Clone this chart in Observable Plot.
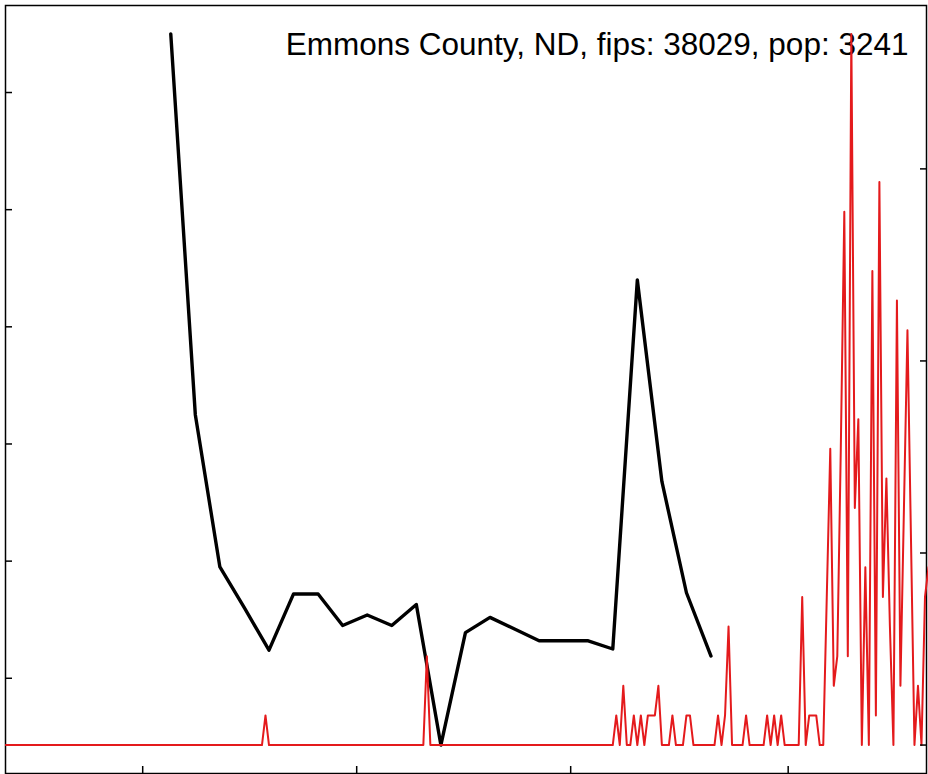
<!DOCTYPE html>
<html>
<head>
<meta charset="utf-8">
<script src="https://cdn.jsdelivr.net/npm/d3@7"></script>
<script src="https://cdn.jsdelivr.net/npm/@observablehq/plot@0.6"></script>
<style>
  html, body { margin: 0; padding: 0; background: #fff; }
  #chart { position: relative; width: 928px; height: 774px; overflow: hidden; }
  #chart svg { position: absolute; left: 0; top: 0; }
</style>
</head>
<body>
<div id="chart"></div>
<script>
// ---- data ----
const title = "Emmons County, ND, fips: 38029, pop: 3241";
const population = 3241;

// weekly series (black line), arbitrary left-axis units
const weekDates = ["2020-03-09","2020-03-16","2020-03-23","2020-03-30","2020-04-06","2020-04-13",
  "2020-04-20","2020-04-27","2020-05-04","2020-05-11","2020-05-18","2020-05-25","2020-06-01",
  "2020-06-08","2020-06-15","2020-06-22","2020-06-29","2020-07-06","2020-07-13","2020-07-20",
  "2020-07-27","2020-08-03","2020-08-10"];
const weekValues = [6.50, 3.25, 1.95, 1.60, 1.24, 1.72, 1.72, 1.45, 1.54, 1.45, 1.63, 0.43,
  1.39, 1.52, 1.42, 1.32, 1.32, 1.32, 1.25, 4.40, 2.68, 1.73, 1.19];

// daily new cases (red line), starting 2020-01-22
const dailyStart = "2020-01-22";
const casesJan = [0,0,0,0,0,0,0,0,0,0];
const casesFeb = [0,0,0,0,0,0,0,0,0,0,0,0,0,0,0,0,0,0,0,0,0,0,0,0,0,0,0,0,0];
const casesMar = [0,0,0,0,0,0,0,0,0,0,0,0,0,0,0,0,0,0,0,0,0,0,0,0,0,0,0,0,0,0,0];
const casesApr = [0,0,0,0,1,0,0,0,0,0,0,0,0,0,0,0,0,0,0,0,0,0,0,0,0,0,0,0,0,0];
const casesMay = [0,0,0,0,0,0,0,0,0,0,0,0,0,0,0,0,0,0,0,0,3,0,0,0,0,0,0,0,0,0,0];
const casesJun = [0,0,0,0,0,0,0,0,0,0,0,0,0,0,0,0,0,0,0,0,0,0,0,0,0,0,0,0,0,0];
const casesJul = [0,0,0,0,0,0,0,0,0,0,0,0,0,1,0,2,0,0,1,0,1,0,1,1,1,2,0,0,0,1,0];
const casesAug = [0,0,1,1,0,0,0,0,0,0,0,1,0,1,4,0,0,0,0,1,0,0,0,0,0,1,0,1,0,1,0];
const casesSep = [0,0,0,0,5,0,1,1,1,0,0,5,10,2,3,10,18,3,24,8,11,0,6,0,16,1,19,5,9,4];
const casesOct = [0,15,2,8,14,7,0,2,0,5,6];

// axis ticks
const xTicks = ["2020-03-01","2020-05-01","2020-07-01","2020-09-01"];
const leftTicks = [1, 2, 3, 4, 5, 6];
const rightTicks = [0, 200, 400, 600];   // cases per 100k

// ---- build tables ----
const weekly = weekDates.map((d, i) => ({date: new Date(d), value: weekValues[i]}));
const dailyCases = [].concat(casesJan, casesFeb, casesMar, casesApr, casesMay, casesJun,
  casesJul, casesAug, casesSep, casesOct);
const daily = dailyCases.map((c, i) => ({
  date: d3.utcDay.offset(new Date(dailyStart), i),
  rate: c * 1e5 / population
}));

const DAY = 864e5;
const xDomain = [new Date(Date.parse("2020-01-22") - 0.11 * DAY), new Date(Date.parse("2020-10-10") + 0.43 * DAY)];
function padded(vals) { // R-style 4% expansion
  const [a, b] = d3.extent(vals); const p = (b - a) * 0.04; return [a - p, b + p];
}

const common = {
  width: 928, height: 774,
  marginTop: 5, marginLeft: 5, marginRight: 2, marginBottom: 1,
  x: {type: "utc", domain: xDomain},
};

const blank = () => "";

const back = Plot.plot({
  ...common,
  style: {background: "white", overflow: "visible"},
  y: {domain: padded(weekValues)},
  marks: [
    Plot.text([title], {frameAnchor: "top-right", textAnchor: "end", lineAnchor: "top",
      dx: -18, dy: 27, fontSize: 31.5, fill: "black",
      fontFamily: "'Liberation Sans', Arial, Helvetica, sans-serif"}),
    Plot.line(weekly, {x: "date", y: "value", stroke: "black", strokeWidth: 3.4,
      strokeLinejoin: "round", strokeLinecap: "round"}),
    Plot.axisY(leftTicks, {anchor: "left", tickSize: -7, tickFormat: blank, label: null, strokeWidth: 1.5}),
    Plot.axisX(xTicks.map(d => new Date(d)), {anchor: "bottom", tickSize: -7, tickFormat: blank, label: null, strokeWidth: 1.5}),
    Plot.frame({stroke: "black", strokeWidth: 1.5})
  ]
});

const front = Plot.plot({
  ...common,
  style: {background: "transparent", overflow: "visible"},
  y: {domain: padded(daily.map(d => d.rate))},
  marks: [
    Plot.line(daily, {x: "date", y: "rate", stroke: "#e41a1c", strokeWidth: 2,
      strokeLinejoin: "round"}),
    Plot.axisY(rightTicks, {anchor: "right", tickSize: -7, tickFormat: blank, label: null, strokeWidth: 1.5}),
    Plot.axisX([], {anchor: "bottom", tickSize: 0, tickFormat: blank, label: null})
  ]
});

const chart = document.getElementById("chart");
chart.appendChild(back);
chart.appendChild(front);
</script>
</body>
</html>
